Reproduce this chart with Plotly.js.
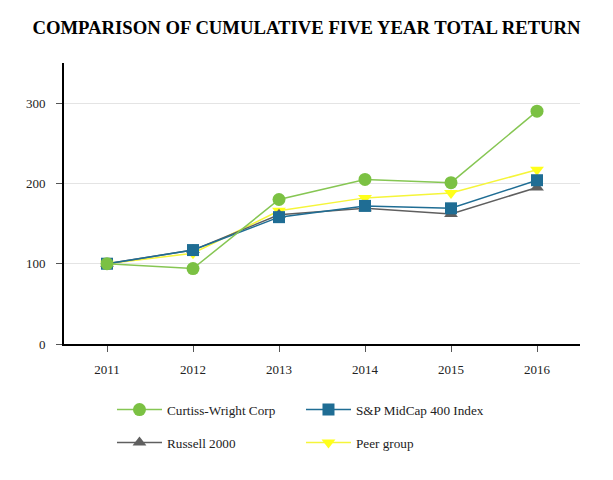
<!DOCTYPE html>
<html>
<head>
<meta charset="utf-8">
<script src="https://cdn.plot.ly/plotly-3.0.1.min.js"></script>
<style>html,body{margin:0;padding:0;background:#fff;}#chart{width:613px;height:480px;}</style>
</head>
<body>
<div id="chart"></div>
<script>
const years = ['2011', '2012', '2013', '2014', '2015', '2016'];
const curtissWright = [100, 94, 180, 205, 201, 290];
const spMidCap400 = [100, 117, 158, 172, 169, 204];
const russell2000 = [100, 117, 161, 169, 162, 195];
const peerGroup = [100, 113, 166, 182, 188, 217];
const yTicks = [0, 100, 200, 300];

const serif = 'Liberation Serif';

const traces = [
  {name: 'Curtiss-Wright Corp', y: curtissWright, color: '#7bc143', line: '#86c653', symbol: 'circle', size: 13, legend: 'legend'},
  {name: 'S&P MidCap 400 Index', y: spMidCap400, color: '#1f6d94', line: '#1f6d94', symbol: 'square', size: 12, legend: 'legend'},
  {name: 'Russell 2000', y: russell2000, color: '#5f5f5f', line: '#5f5f5f', symbol: 'triangle-up', size: 12, legend: 'legend2'},
  {name: 'Peer group', y: peerGroup, color: '#ffff1a', line: '#f5f53a', symbol: 'triangle-down', size: 12, legend: 'legend2'}
].map(t => ({
  type: 'scatter', mode: 'lines+markers', name: t.name, x: years, y: t.y,
  line: {color: t.line, width: 1.5},
  marker: {color: t.color, symbol: t.symbol, size: t.size},
  legend: t.legend
}));
const data = [traces[3], traces[2], traces[1], traces[0]];

const legendCommon = {
  orientation: 'h', xanchor: 'left', yanchor: 'middle',
  font: {family: serif, size: 13.2, color: '#222'},
  itemwidth: 45,
  entrywidth: 129, entrywidthmode: 'pixels', traceorder: 'reversed',
  bgcolor: 'rgba(0,0,0,0)'
};

const layout = {
  width: 613, height: 480,
  margin: {l: 64, r: 33, t: 63, b: 136},
  paper_bgcolor: '#fff', plot_bgcolor: '#fff',
  font: {family: serif},
  title: {text: '<b>COMPARISON OF CUMULATIVE FIVE YEAR TOTAL RETURN</b>', font: {family: serif, size: 18.7, color: '#000'}, x: 0.5, xanchor: 'center', y: 0.942, yanchor: 'middle'},
  xaxis: {
    type: 'category', range: [-0.5, 5.5], showgrid: false,
    showline: true, linecolor: '#000', linewidth: 2,
    ticks: 'outside', ticklen: 6, tickcolor: '#555', tickwidth: 1,
    tickfont: {family: serif, size: 13, color: '#222'}, ticklabelstandoff: 6,
    zeroline: false, fixedrange: true
  },
  yaxis: {
    range: [0, 350], tickvals: yTicks, ticktext: yTicks.map(String),
    showgrid: true, gridcolor: '#e4e4e4', gridwidth: 1,
    showline: true, linecolor: '#000', linewidth: 2,
    ticks: 'outside', ticklen: 6, tickcolor: '#555', tickwidth: 1,
    tickfont: {family: serif, size: 13, color: '#222'}, ticklabelstandoff: 8,
    zeroline: false, fixedrange: true
  },
  legend: Object.assign({}, legendCommon, {x: 0.093, y: -0.235}),
  legend2: Object.assign({}, legendCommon, {x: 0.093, y: -0.352}),
  showlegend: true
};

Plotly.newPlot('chart', data, layout, {displayModeBar: false, staticPlot: true});
</script>
</body>
</html>
